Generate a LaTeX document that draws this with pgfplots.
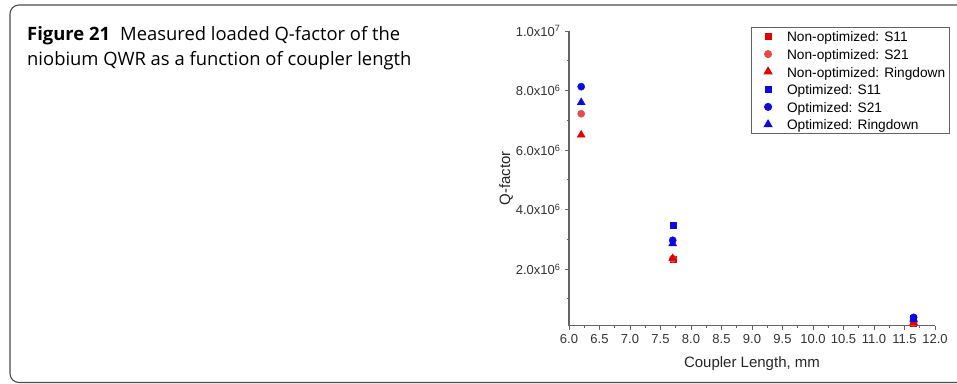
\documentclass[border=0pt]{standalone}
\usepackage{fontspec}
\setmainfont{Liberation Sans}
\newfontfamily\capfont{Open Sans}
\usepackage{pgfplots}
\pgfplotsset{compat=1.18}
\definecolor{myred}{RGB}{228,0,0}
\definecolor{mylred}{RGB}{230,75,75}
\definecolor{myblue}{RGB}{10,10,230}
\definecolor{axgray}{RGB}{100,100,100}
\begin{document}
\begin{tikzpicture}
\useasboundingbox (0,0) rectangle (957bp,-384bp);
\begin{scope}
\clip (0,0) rectangle (957bp,-384bp);
\draw[black!70, line width=1.1bp, rounded corners=9bp] (1000bp,-5bp) -- (10bp,-5bp) -- (10bp,-382.5bp) -- (1000bp,-382.5bp);
\end{scope}
\node[anchor=base west, inner sep=0pt, font=\capfont\fontsize{18.4bp}{22bp}\selectfont] at (27bp,-40bp) {\textbf{Figure 21}\hspace{0.55em}Measured loaded Q-factor of the};
\node[anchor=base west, inner sep=0pt, font=\capfont\fontsize{18.4bp}{22bp}\selectfont] at (27bp,-65bp) {niobium QWR as a function of coupler length};
\begin{axis}[
  at={(569bp,-325.7bp)}, anchor=origin,
  scale only axis, width=366bp, height=294.7bp,
  xmin=6, xmax=12, ymin=1e5, ymax=1e7,
  axis lines*=left,
  axis line style={axgray, line width=1.1bp},
  every tick/.style={axgray, line width=1bp},
  tick align=outside,
  major tick length=4bp, minor tick length=2.5bp,
  xtick={6,6.5,...,12}, minor x tick num=1,
  ytick={2e6,4e6,6e6,8e6,1e7},
  minor ytick={1e6,3e6,5e6,7e6,9e6},
  yticklabels={2.0x10\textsuperscript{6},4.0x10\textsuperscript{6},6.0x10\textsuperscript{6},8.0x10\textsuperscript{6},1.0x10\textsuperscript{7}},
  scaled y ticks=false,
  xticklabel style={/pgf/number format/fixed, /pgf/number format/fixed zerofill, /pgf/number format/precision=1, /pgf/number format/assume math mode=true, yshift=-1bp},
  ticklabel style={font=\fontsize{13bp}{15bp}\selectfont, text=black!80},
  yticklabel style={xshift=-1bp},
  xlabel={Coupler Length, mm},
  ylabel={Q-factor},
  label style={font=\fontsize{15bp}{17bp}\selectfont, text=black!85},
  xlabel style={at={(rel axis cs:0.5,-0.1435)}, anchor=base},
  ylabel style={at={(rel axis cs:-0.172,0.5)}, anchor=center},
  clip=false,
  legend style={at={(0.4964,1.0126)}, anchor=north west, draw=axgray, line width=0.8bp,
    font=\fontsize{13.7bp}{15bp}\selectfont, inner xsep=2bp, inner ysep=0bp, row sep=0pt,
    nodes={inner ysep=0pt, text height=14.2bp, text depth=3.4bp}},
  legend cell align=left,
  legend image code/.code={\path[draw=none] (-15bp,0bp) -- (17bp,0bp); \draw[#1] plot coordinates {(0bp,0bp)};},
]
\addplot[only marks, mark=square*, mark size=3bp, color=myred] coordinates {(7.7,2.33e6) (11.65,0.19e6)};
\addlegendentry{Non-optimized: S11}
\addplot[only marks, mark=*, mark size=3.6bp, color=mylred] coordinates {(6.2,7.22e6) (7.7,2.35e6) (11.65,0.2e6)};
\addlegendentry{Non-optimized: S21}
\addplot[only marks, mark=triangle*, mark size=4.6bp, color=myred] coordinates {(6.2,6.51e6) (7.7,2.36e6) (11.65,0.2e6)};
\addlegendentry{Non-optimized: Ringdown}
\addplot[only marks, mark=square*, mark size=3bp, color=myblue] coordinates {(7.7,3.48e6) (11.65,0.35e6)};
\addlegendentry{Optimized: S11}
\addplot[only marks, mark=*, mark size=3.6bp, color=myblue] coordinates {(6.2,8.13e6) (7.7,2.97e6) (11.65,0.38e6)};
\addlegendentry{Optimized: S21}
\addplot[only marks, mark=triangle*, mark size=4.6bp, color=myblue] coordinates {(6.2,7.6e6) (7.7,2.86e6) (11.65,0.32e6)};
\addlegendentry{Optimized: Ringdown}
\end{axis}
\end{tikzpicture}
\end{document}
